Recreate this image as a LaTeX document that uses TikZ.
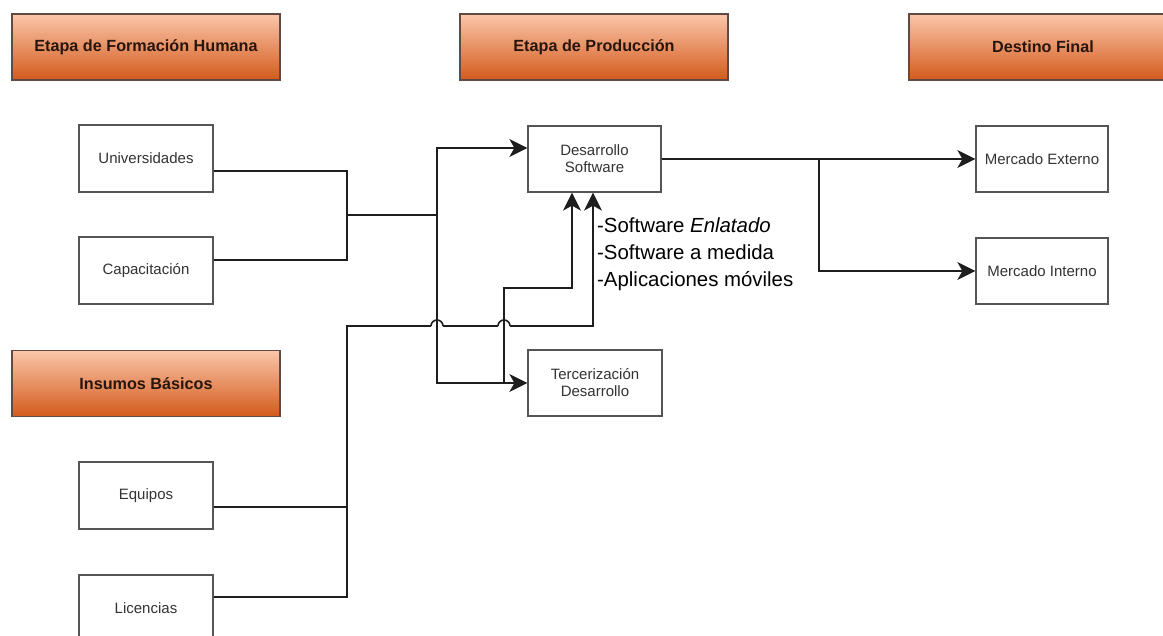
\documentclass[tikz,border=0pt]{standalone}
\usepackage{fontspec}
\setmainfont{Liberation Sans}
\usetikzlibrary{arrows.meta}
\definecolor{hdrtop}{RGB}{250,198,170}
\definecolor{hdrbot}{RGB}{212,90,28}
\definecolor{hdrline}{RGB}{95,75,65}
\definecolor{hdrtxt}{RGB}{40,22,12}
\definecolor{boxline}{RGB}{85,85,85}
\definecolor{txt}{RGB}{51,51,51}
\definecolor{connc}{RGB}{30,30,30}
\begin{document}
\begin{tikzpicture}[x=1pt,y=-1pt,
  hdr/.style={draw=hdrline, line width=1.3pt, top color=hdrtop, bottom color=hdrbot,
    minimum width=268pt, minimum height=66pt, inner sep=0pt,
    font=\fontsize{16.2}{20}\selectfont\bfseries, text=hdrtxt},
  wbox/.style={draw=boxline, line width=1.3pt, fill=white, minimum width=134pt,
    minimum height=67pt, inner sep=0pt, align=center,
    font=\fontsize{15}{17}\selectfont, text=txt},
  conn/.style={draw=connc, line width=1.4pt},
  hop/.style={draw=connc, line width=1.6pt},
  arr/.style={conn, -{Stealth[length=18pt,width=18pt,inset=5pt]}},
]
\useasboundingbox (0,0) rectangle (1163,636);
\fill[white] (0,0) rectangle (1163,636);

% headers
\node[hdr] (h1) at (146,47) {Etapa de Formación Humana};
\node[hdr] (h2) at (594,47) {Etapa de Producción};
\node[hdr] (h3) at (1043,47) {Destino Final};
\node[hdr] (h4) at (146,383.5) {Insumos Básicos};

% boxes
\node[wbox] (univ) at (146,158.5) {Universidades};
\node[wbox] (capa) at (146,270.5) {Capacitación};
\node[wbox] (equi) at (146,495.5) {Equipos};
\node[wbox] (lic) at (146,608.5) {Licencias};
\node[wbox, minimum width=133pt, minimum height=66pt] (des) at (594.5,159) {Desarrollo\\Software};
\node[wbox, minimum height=66pt] (ter) at (595,383) {Tercerización\\Desarrollo};
\node[wbox, minimum width=132pt, minimum height=66pt] (mext) at (1042,159) {Mercado Externo};
\node[wbox, minimum width=132pt, minimum height=66pt] (mint) at (1042,271) {Mercado Interno};

% annotation
\node[anchor=north west, inner sep=0pt, align=left,
  font=\fontsize{20.4}{27}\selectfont] (ann) at (597,218)
  {-Software \textit{Enlatado}\\-Software a medida\\-Aplicaciones móviles};

% junctions
\coordinate (j1) at (347,215);
\coordinate (j2) at (437,215);
\coordinate (j3) at (504,383);
\coordinate (j4) at (347,326);
\coordinate (j5) at (819,159);
\coordinate (j6) at (347,507);
\coordinate (k1) at (431,326);
\coordinate (k2) at (443,326);
\coordinate (k3) at (498,326);
\coordinate (k4) at (510,326);
\coordinate (k5) at (593,326);

% connectors
\draw[conn] ([yshift=-12.5pt]univ.east) -| (j1);
\draw[conn] ([yshift=10.5pt]capa.east) -| (j1);
\draw[conn] (j1) -- (j2);
\draw[arr] (j2) |- ([yshift=11pt]des.west);
\draw[arr] (j2) |- (ter.west);
\draw[conn] ([yshift=-11.5pt]equi.east) -- (j6);
\draw[conn] ([yshift=11.5pt]lic.east) -| (j4) -- (k1);
\draw[hop] (k1) arc[start angle=180, end angle=0, radius=6pt];
\draw[conn] (k2) -- (k3);
\draw[hop] (k3) arc[start angle=180, end angle=0, radius=6pt];
\draw[arr] (k4) -- (k5) -- ([xshift=-1.5pt]des.south);
\draw[arr] (j3) -- (504,288) -| ([xshift=-22.5pt]des.south);
\draw[arr] (des.east) -- (mext.west);
\draw[arr] (j5) |- (mint.west);
\end{tikzpicture}
\end{document}
